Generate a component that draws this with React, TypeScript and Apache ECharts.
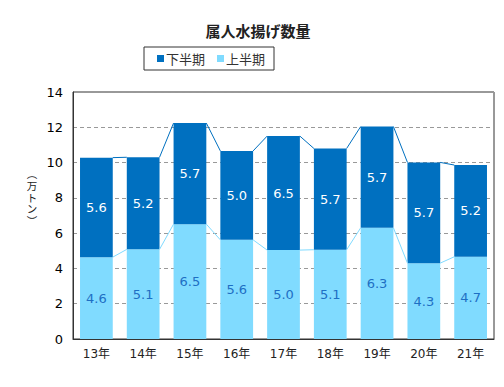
import React, { useEffect, useRef } from "react";
import * as echarts from "echarts";

const categories = ["13年", "14年", "15年", "16年", "17年", "18年", "19年", "20年", "21年"];
const firstHalf = [4.64, 5.08, 6.51, 5.62, 5.04, 5.06, 6.3, 4.3, 4.66]; // 上半期
const secondHalf = [5.64, 5.22, 5.73, 5.04, 6.46, 5.74, 5.74, 5.71, 5.2]; // 下半期
const yTicks = { min: 0, max: 14, interval: 2 };
const yName = ["︵", "万", "ト", "ン", "︶"];

const DARK = "#0070C0";
const LIGHT = "#80DBFF";
const NUM_FONT = "'DejaVu Sans', 'Noto Sans CJK JP', sans-serif";
const CJK_FONT = "'Noto Sans CJK JP', sans-serif";
const NAME_FONT = "'Liberation Sans', 'Noto Sans CJK JP', sans-serif";

export default function App() {
  const ref = useRef<HTMLDivElement>(null);
  useEffect(() => {
    if (!ref.current) return;
    const chart = echarts.init(ref.current, null, { renderer: "svg" });
    const totals = firstHalf.map((v, i) => v + secondHalf[i]);
    const connectorData = categories.slice(0, -1).map((_, i) => [
      i,
      firstHalf[i],
      totals[i],
      firstHalf[i + 1],
      totals[i + 1],
    ]);
    const barRatio = 0.7;
    chart.setOption({
      animation: false,
      title: {
        text: "属人水揚げ数量",
        left: 253,
        textAlign: "center",
        top: 18,
        textStyle: { fontFamily: CJK_FONT, fontSize: 15, fontWeight: "bold", color: "#222" },
      },
      legend: {
        left: 144,
        top: 47,
        padding: [5, 9, 5, 13],
        borderColor: "#333",
        borderWidth: 1,
        itemWidth: 7,
        itemHeight: 7,
        itemGap: 12,
        icon: "rect",
        data: ["下半期", "上半期"],
        textStyle: { fontFamily: CJK_FONT, fontSize: 13, color: "#333", padding: [0, 0, 0, -3] },
      },
      grid: {
        left: 73,
        right: 10,
        top: 92,
        bottom: 48,
        show: true,
        borderColor: "#333",
        borderWidth: 1,
        backgroundColor: "transparent",
      },
      xAxis: {
        type: "category",
        data: categories,
        axisLine: { lineStyle: { color: "#333" } },
        axisTick: { show: false },
        axisLabel: { fontFamily: NUM_FONT, fontSize: 12, color: "#222", margin: 9 },
      },
      yAxis: {
        type: "value",
        min: yTicks.min,
        max: yTicks.max,
        interval: yTicks.interval,
        axisLine: { show: true, lineStyle: { color: "#333" } },
        axisTick: { show: false },
        axisLabel: { fontFamily: NUM_FONT, fontSize: 13, color: "#000", margin: 10 },
        splitLine: { lineStyle: { color: "#999", type: [4, 3] } },
      },
      graphic: yName.map((ch, k) => ({
        type: "text",
        x: 32,
        y: 174 + k * 11.8,
        style: {
          text: ch,
          fontFamily: NAME_FONT,
          fontSize: 10.5,
          fill: "#222",
          align: "center",
          verticalAlign: "middle",
        },
      })),
      series: [
        {
          name: "上半期",
          type: "bar",
          stack: "total",
          data: firstHalf,
          barCategoryGap: "30%",
          itemStyle: { color: LIGHT },
          label: {
            show: true,
            position: "inside",
            formatter: (p: any) => p.value.toFixed(1),
            fontFamily: NUM_FONT,
            fontSize: 13,
            color: "#1E6FC4",
          },
        },
        {
          name: "下半期",
          type: "bar",
          stack: "total",
          data: secondHalf,
          barCategoryGap: "30%",
          itemStyle: { color: DARK },
          label: {
            show: true,
            position: "inside",
            formatter: (p: any) => p.value.toFixed(1),
            fontFamily: NUM_FONT,
            fontSize: 13,
            color: "#fff",
          },
        },
        {
          type: "custom",
          silent: true,
          z: 3,
          data: connectorData,
          encode: { x: 0, y: 2 },
          renderItem: (params: any, api: any) => {
            const i = api.value(0);
            const bw = api.size([1, 0])[0] * barRatio;
            const a1 = api.coord([i, api.value(1)]);
            const a2 = api.coord([i, api.value(2)]);
            const b1 = api.coord([i + 1, api.value(3)]);
            const b2 = api.coord([i + 1, api.value(4)]);
            return {
              type: "group",
              children: [
                {
                  type: "line",
                  shape: { x1: a1[0] + bw / 2, y1: a1[1], x2: b1[0] - bw / 2, y2: b1[1] },
                  style: { stroke: LIGHT, lineWidth: 1 },
                },
                {
                  type: "line",
                  shape: { x1: a2[0] + bw / 2, y1: a2[1], x2: b2[0] - bw / 2, y2: b2[1] },
                  style: { stroke: DARK, lineWidth: 1 },
                },
              ],
            };
          },
        },
      ],
    });
    return () => chart.dispose();
  }, []);
  return <div ref={ref} style={{ width: 504, height: 387, margin: -8 }} />;
}
